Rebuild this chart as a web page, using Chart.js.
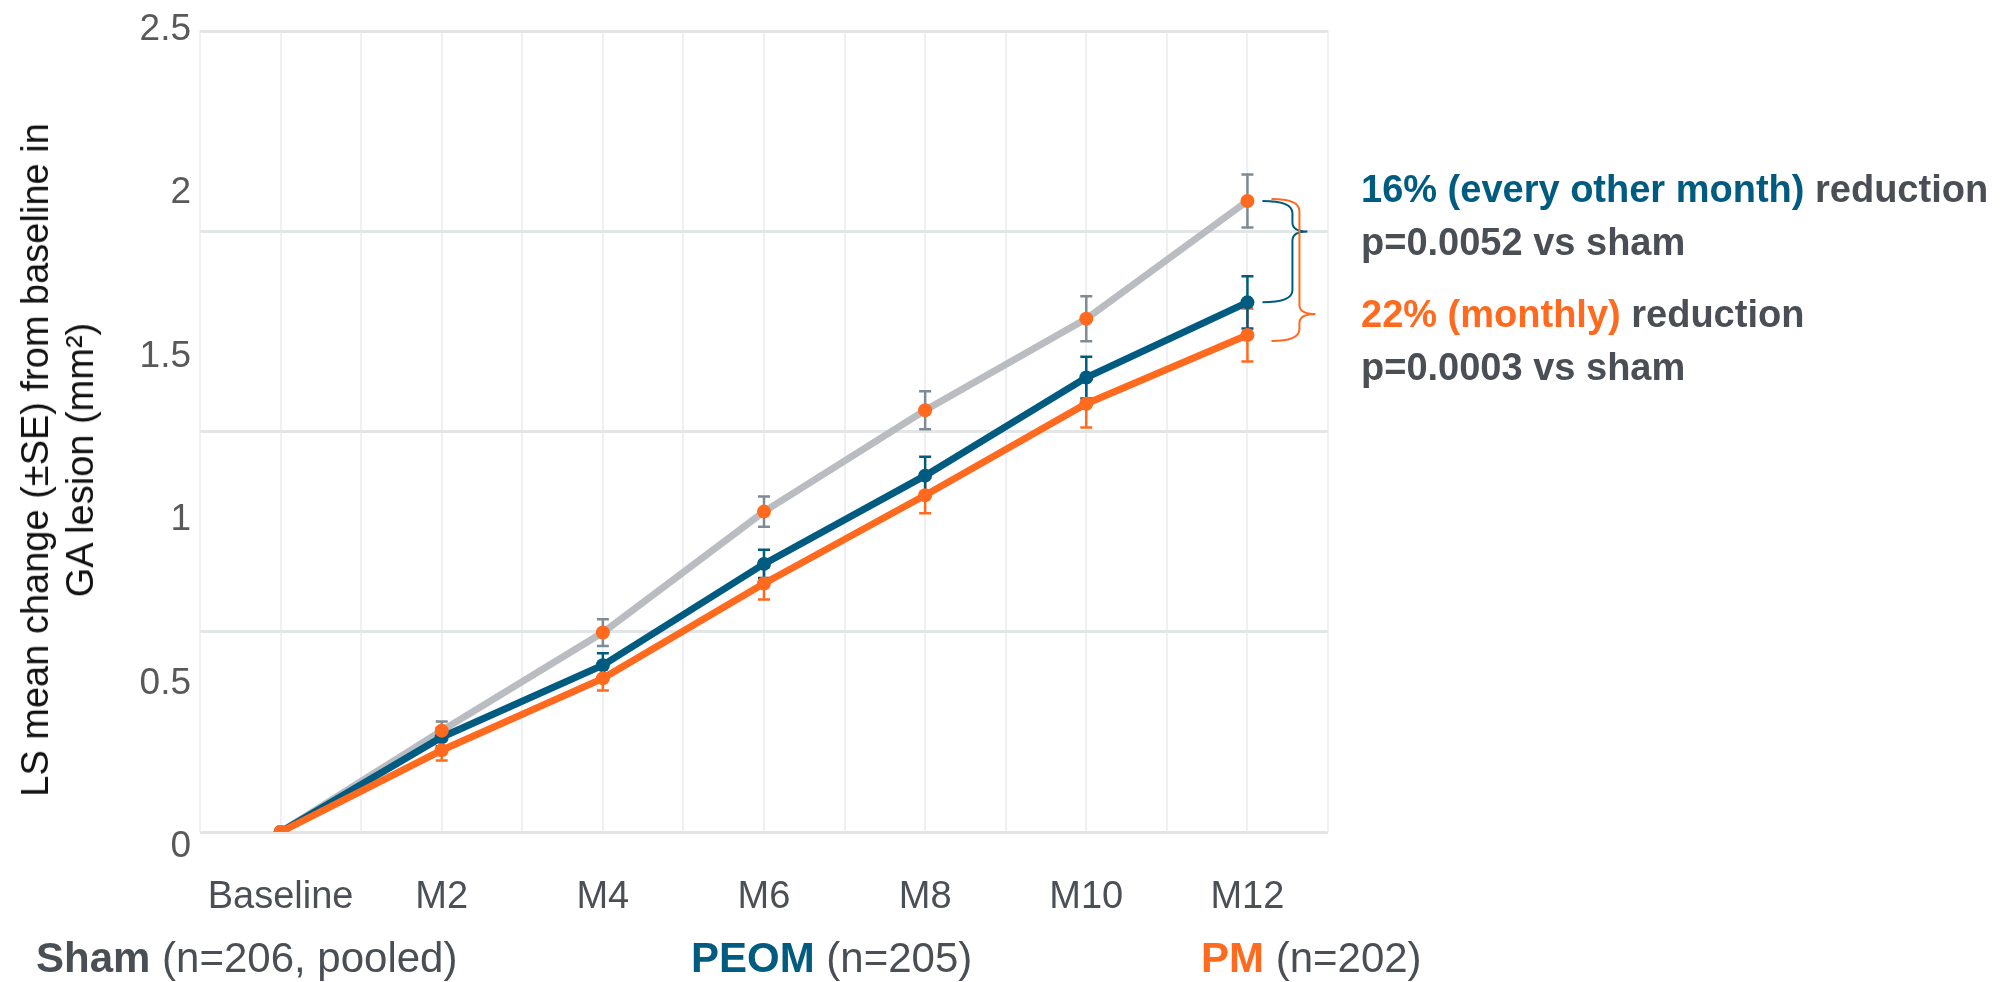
<!DOCTYPE html>
<html>
<head>
<meta charset="utf-8">
<script src="https://cdn.jsdelivr.net/npm/chart.js@4.4.1/dist/chart.umd.min.js"></script>
<style>
html,body{margin:0;padding:0;background:#fff;}
#wrap{position:relative;width:2014px;height:982px;overflow:hidden;font-family:"Liberation Sans",Arial,sans-serif;}
#c{position:absolute;left:0;top:0;}
.t{position:absolute;white-space:nowrap;line-height:1;color:#4a4f55;}
.ann{font-size:38px;font-weight:bold;}
.leg{font-size:42px;}
.yt{position:absolute;top:460px;transform:translate(-50%,-50%) rotate(-90deg);font-size:38px;line-height:38px;white-space:nowrap;color:#111;}
</style>
</head>
<body>
<div id="wrap">
<canvas id="c" width="2014" height="982"></canvas>
<div class="yt" style="left:35px">LS mean change (±SE) from baseline in</div>
<div class="yt" style="left:80px">GA lesion (mm²)</div>
<div class="t ann" style="left:1361px;top:170px"><span style="color:#005b80">16% (every other month)</span> reduction</div>
<div class="t ann" style="left:1361px;top:223px">p=0.0052 vs sham</div>
<div class="t ann" style="left:1361px;top:295px"><span style="color:#ff6a1f">22% (monthly)</span> reduction</div>
<div class="t ann" style="left:1361px;top:348px">p=0.0003 vs sham</div>
<div class="t leg" style="left:36px;top:937px"><b>Sham</b> (n=206, pooled)</div>
<div class="t leg" style="left:691px;top:937px"><b style="color:#005b80">PEOM</b> (n=205)</div>
<div class="t leg" style="left:1201px;top:937px"><b style="color:#ff6a1f">PM</b> (n=202)</div>
</div>
<script>
// ---- data ----
const categories = ['Baseline', 'M2', 'M4', 'M6', 'M8', 'M10', 'M12'];
const shamMean = [0, 0.31, 0.61, 0.98, 1.29, 1.57, 1.93];
const shamSE   = [0, 0.028, 0.041, 0.046, 0.058, 0.069, 0.081];
const peomMean = [0, 0.29, 0.51, 0.82, 1.09, 1.39, 1.62];
const peomSE   = [0, 0.028, 0.037, 0.043, 0.058, 0.064, 0.080];
const pmMean   = [0, 0.25, 0.47, 0.76, 1.03, 1.31, 1.52];
const pmSE     = [0, 0.031, 0.037, 0.049, 0.055, 0.073, 0.081];
const yTickValues = [0, 0.5, 1, 1.5, 2, 2.5];
const yTickLabels = ['0', '0.5', '1', '1.5', '2', '2.5'];

// ---- styles ----
const BLUE = '#005b80', ORANGE = '#ff6a1f', GRAYLINE = '#b9bdc1', GRAYERR = '#7e8b94';
Chart.defaults.font.family = '"Liberation Sans", Arial, sans-serif';

const errorBars = {
  id: 'errorBars',
  beforeDatasetsDraw(chart) {
    const ctx = chart.ctx, y = chart.scales.y;
    ctx.save();
    chart.data.datasets.forEach((ds, i) => {
      if (!ds.errors) return;
      const meta = chart.getDatasetMeta(i);
      meta.data.forEach((pt, j) => {
        const se = ds.errors[j];
        if (!se) return;
        const v = ds.data[j];
        const px = pt.x;
        const yt = y.getPixelForValue(v + se), yb = y.getPixelForValue(v - se);
        ctx.strokeStyle = ds.errorColor;
        ctx.lineWidth = 2.5;
        ctx.beginPath();
        ctx.moveTo(px, yt); ctx.lineTo(px, yb);
        ctx.moveTo(px - 6, yt); ctx.lineTo(px + 6, yt);
        ctx.moveTo(px - 6, yb); ctx.lineTo(px + 6, yb);
        ctx.stroke();
      });
    });
    ctx.restore();
  }
};

function drawBrace(ctx, x0, xv, xt, yTop, yBot, frac, color) {
  const ym = yTop + (yBot - yTop) * frac;
  const r = 12, rt = 9;
  ctx.save();
  ctx.strokeStyle = color;
  ctx.lineWidth = 2;
  ctx.beginPath();
  ctx.moveTo(x0, yTop);
  ctx.quadraticCurveTo(xv, yTop, xv, yTop + r);
  ctx.lineTo(xv, ym - rt);
  ctx.quadraticCurveTo(xv, ym, xt, ym);
  ctx.quadraticCurveTo(xv, ym, xv, ym + rt);
  ctx.lineTo(xv, yBot - r);
  ctx.quadraticCurveTo(xv, yBot, x0, yBot);
  ctx.stroke();
  ctx.restore();
}

const braces = {
  id: 'braces',
  afterDatasetsDraw(chart) {
    const ctx = chart.ctx, x = chart.scales.x, y = chart.scales.y;
    const last = categories.length - 1;
    const px = x.getPixelForValue(last);
    const ySham = y.getPixelForValue(shamMean[last]);
    const yPeom = y.getPixelForValue(peomMean[last]);
    const yPm = y.getPixelForValue(pmMean[last]);
    drawBrace(ctx, px + 15, px + 45, px + 60, ySham, yPeom, 0.3, BLUE);
    drawBrace(ctx, px + 24, px + 52, px + 68, ySham - 2, yPm + 6, 0.81, ORANGE);
  }
};

new Chart(document.getElementById('c'), {
  type: 'line',
  data: {
    labels: categories,
    datasets: [
      { label: 'Sham markers', data: shamMean, showLine: false, pointRadius: 7,
        pointBackgroundColor: ORANGE, pointBorderWidth: 0, order: 1, xAxisID: 'x', yAxisID: 'y' },
      { label: 'PM', data: pmMean, errors: pmSE, errorColor: ORANGE, borderColor: ORANGE,
        borderWidth: 7, pointRadius: 7, pointBackgroundColor: ORANGE, pointBorderWidth: 0,
        tension: 0, order: 2, xAxisID: 'x', yAxisID: 'y' },
      { label: 'PEOM', data: peomMean, errors: peomSE, errorColor: BLUE, borderColor: BLUE,
        borderWidth: 7, pointRadius: 7, pointBackgroundColor: BLUE, pointBorderWidth: 0,
        tension: 0, order: 3, xAxisID: 'x', yAxisID: 'y' },
      { label: 'Sham', data: shamMean, errors: shamSE, errorColor: GRAYERR, borderColor: GRAYLINE,
        borderWidth: 7, pointRadius: 0, tension: 0, order: 4, xAxisID: 'x', yAxisID: 'y' }
    ]
  },
  options: {
    responsive: false,
    animation: false,
    devicePixelRatio: 1,
    events: [],
    layout: { padding: { top: 31, right: 686, bottom: 0, left: 0 } },
    plugins: { legend: { display: false }, tooltip: { enabled: false } },
    scales: {
      x: {
        type: 'category', position: 'bottom', offset: true,
        grid: { display: false }, border: { display: false },
        ticks: { color: '#4a5056', font: { size: 38 }, padding: 35, maxRotation: 0, autoSkip: false },
        afterFit(s) { s.height = 150; }
      },
      y: {
        type: 'linear', position: 'left', min: 0, max: 2.45,
        grid: { display: false }, border: { display: false },
        afterBuildTicks(s) { s.ticks = yTickValues.map(v => ({ value: v })); },
        ticks: { color: '#595959', font: { size: 37 }, padding: 1, labelOffset: 15, stepSize: 0.5,
                 autoSkip: false, callback: (v, i) => yTickLabels[i] },
        afterFit(s) { s.width = 200; }
      },
      xg: {
        type: 'linear', position: 'top', min: 0, max: 14,
        grid: { color: '#eff0f1', lineWidth: 2, drawTicks: false }, border: { display: false },
        ticks: { display: false, stepSize: 1 }
      },
      yg: {
        type: 'linear', position: 'right', min: 0, max: 4,
        grid: { color: '#e3e6e7', lineWidth: 3, drawTicks: false }, border: { display: false },
        ticks: { display: false, stepSize: 1 }
      }
    }
  },
  plugins: [errorBars, braces]
});
</script>
</body>
</html>
